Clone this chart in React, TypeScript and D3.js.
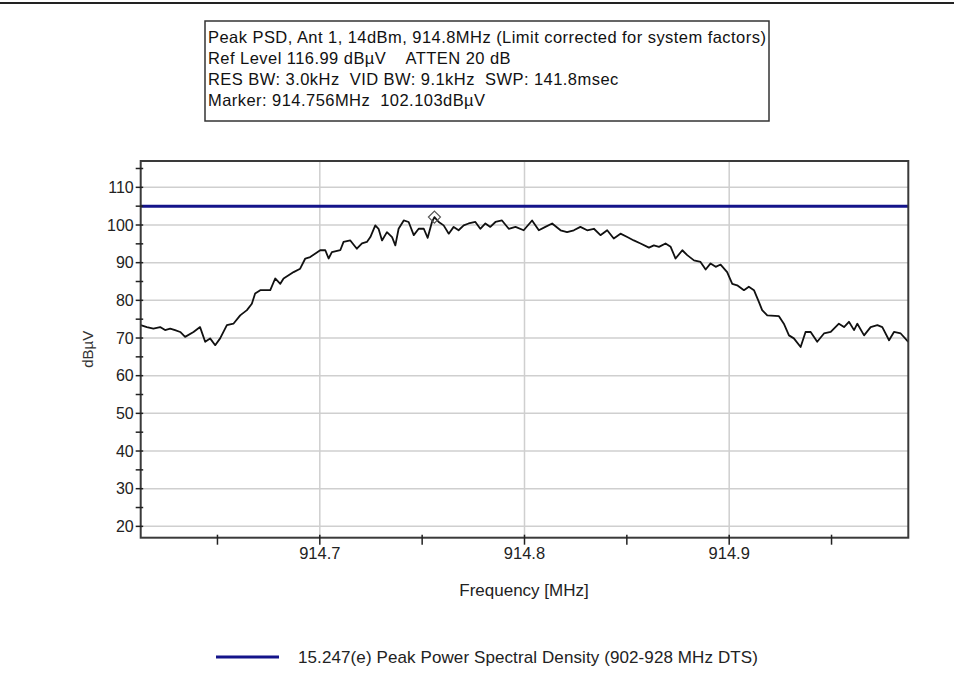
import React from "react";
import * as d3 from "d3";

// ---- data ----
const freqMHz = [
  914.6125, 914.6155, 914.6187, 914.622, 914.6244, 914.6269, 914.6293, 914.6318, 914.6342, 914.6383,
  914.6415, 914.644, 914.6464, 914.6489, 914.6513, 914.6546, 914.6578, 914.6611, 914.6644, 914.6668,
  914.6684, 914.6709, 914.6758, 914.6782, 914.6807, 914.6823, 914.6872, 914.6904, 914.6929, 914.6953,
  914.7002, 914.7027, 914.7043, 914.7059, 914.71, 914.7116, 914.7149, 914.7181, 914.7206, 914.723,
  914.7247, 914.7271, 914.7287, 914.7304, 914.7328, 914.7353, 914.7369, 914.7385, 914.741, 914.7434,
  914.7459, 914.7483, 914.7508, 914.7527, 914.7548, 914.756, 914.7581, 914.7605, 914.763, 914.7654,
  914.7678, 914.7703, 914.7727, 914.776, 914.7784, 914.7809, 914.7833, 914.7858, 914.789, 914.7923,
  914.7956, 914.7996, 914.8037, 914.807, 914.8102, 914.8135, 914.8176, 914.8208, 914.8241, 914.8273,
  914.8306, 914.8339, 914.8371, 914.8404, 914.8436, 914.8469, 914.8502, 914.8534, 914.8567, 914.8608,
  914.8632, 914.8657, 914.8689, 914.8714, 914.8738, 914.8771, 914.8795, 914.8828, 914.886, 914.8885,
  914.8909, 914.8934, 914.8958, 914.899, 914.9015, 914.9039, 914.9072, 914.9096, 914.9121, 914.9145,
  914.9161, 914.9186, 914.9243, 914.9267, 914.9292, 914.9316, 914.9349, 914.9373, 914.9398, 914.943,
  914.9463, 914.9496, 914.9536, 914.9561, 914.9585, 914.961, 914.9626, 914.9659, 914.9691, 914.9724,
  914.9748, 914.9781, 914.9805, 914.9838, 914.9875,
];
const levelDbuV = [
  73.4, 72.9, 72.5, 72.9, 72.1, 72.5, 72.1, 71.6, 70.3, 71.6,
  72.9, 69.0, 69.9, 68.1, 69.9, 73.4, 73.8, 76.0, 77.4, 79.1,
  81.8, 82.7, 82.7, 85.8, 84.4, 85.8, 87.5, 88.4, 91.1, 91.5,
  93.3, 93.3, 91.1, 92.8, 93.3, 95.5, 95.9, 93.7, 95.1, 95.5,
  96.8, 99.9, 99.0, 95.9, 98.1, 96.8, 94.6, 99.0, 101.2, 100.8,
  97.3, 99.0, 99.0, 96.6, 100.8, 102.1, 100.8, 99.9, 97.7, 99.5,
  98.6, 99.9, 100.4, 100.8, 99.0, 100.4, 99.5, 100.8, 101.2, 99.0,
  99.5, 98.6, 101.2, 98.6, 99.5, 100.4, 98.6, 98.1, 98.6, 99.5,
  98.6, 99.0, 97.3, 98.6, 96.4, 97.7, 96.8, 95.9, 95.1, 94.0,
  94.6, 94.2, 95.1, 94.2, 91.1, 93.3, 92.0, 90.6, 90.2, 88.2,
  89.8, 88.9, 89.5, 87.5, 84.4, 84.0, 82.7, 83.6, 82.7, 79.6,
  77.4, 76.0, 75.8, 73.8, 70.7, 69.9, 67.6, 71.6, 71.6, 69.0,
  71.2, 71.6, 73.8, 72.9, 74.3, 72.1, 73.8, 70.7, 72.9, 73.4,
  72.9, 69.4, 71.6, 71.2, 69.0,
];
const limitDbuV = 105;
const markerFreq = 914.756;
const markerLevel = 102.103;
const yTickLabels = [20, 30, 40, 50, 60, 70, 80, 90, 100, 110];
const yMinorTicks = [20, 25, 30, 35, 40, 45, 50, 55, 60, 65, 70, 75, 80, 85, 90, 95, 100, 105, 110, 115];
const xTickLabels = [914.7, 914.8, 914.9];
const xMinorTicks = [914.65, 914.7, 914.75, 914.8, 914.85, 914.9, 914.95];
const headerLines = [
  "Peak PSD, Ant 1, 14dBm, 914.8MHz (Limit corrected for system factors)",
  "Ref Level 116.99 dB\u00b5V    ATTEN 20 dB",
  "RES BW: 3.0kHz  VID BW: 9.1kHz  SWP: 141.8msec",
  "Marker: 914.756MHz  102.103dB\u00b5V",
];
const legendLabel = "15.247(e) Peak Power Spectral Density (902-928 MHz DTS)";
const xTitle = "Frequency [MHz]";
const yTitle = "dB\u00b5V";

const FONT = "'Liberation Sans', Arial, sans-serif";

export default function App() {
  const W = 954;
  const H = 678;
  const left = 140.7, right = 908.3, top = 161, bottom = 537.7;
  const x = d3.scaleLinear().domain([914.6125, 914.9875]).range([left, right]);
  const y = d3.scaleLinear().domain([16.99, 116.99]).range([bottom, top]);
  const line = d3
    .line<number>()
    .x((_, i) => x(freqMHz[i]))
    .y((d) => y(d));
  const tracePath = line(levelDbuV) || "";
  const mx = x(markerFreq);
  const my = y(markerLevel);
  const ds = 6;
  const blue = "#14148a";

  return (
    <svg
      width={W}
      height={H}
      style={{ position: "absolute", left: 0, top: 0, background: "#fff" }}
      fontFamily={FONT}
    >
      <rect x={0} y={0} width={W} height={H} fill="#fff" />
      <line x1={0} x2={W} y1={3} y2={3} stroke="#222" strokeWidth={2} />

      {/* header box */}
      <rect x={205} y={21} width={564} height={100} fill="#fff" stroke="#333" strokeWidth={1.5} />
      {headerLines.map((t, i) => (
        <text
          key={i}
          x={208}
          y={43 + i * 21}
          fontSize={16.5}
          letterSpacing={0.45}
          fill="#111"
          style={{ whiteSpace: "pre" }}
        >
          {t}
        </text>
      ))}

      {/* grid */}
      {yTickLabels.map((v) => (
        <line key={"gy" + v} x1={left} x2={right} y1={y(v)} y2={y(v)} stroke="#cfcfcf" strokeWidth={1.5} />
      ))}
      {xTickLabels.map((v) => (
        <line key={"gx" + v} x1={x(v)} x2={x(v)} y1={top} y2={bottom} stroke="#cfcfcf" strokeWidth={1.5} />
      ))}

      {/* limit line */}
      <line x1={left} x2={right} y1={y(limitDbuV)} y2={y(limitDbuV)} stroke={blue} strokeWidth={3} />

      {/* trace */}
      <path d={tracePath} fill="none" stroke="#111" strokeWidth={1.8} strokeLinejoin="round" />

      {/* marker */}
      <path
        d={`M${mx},${my - ds} L${mx + ds},${my} L${mx},${my + ds} L${mx - ds},${my} Z`}
        fill="none"
        stroke="#555"
        strokeWidth={1.2}
      />

      {/* frame */}
      <rect x={left} y={top} width={right - left} height={bottom - top} fill="none" stroke="#3a3a3a" strokeWidth={2} />

      {/* y ticks */}
      {yMinorTicks.map((v) => (
        <line key={"ty" + v} x1={left - 5} x2={left + 2.5} y1={y(v)} y2={y(v)} stroke="#222" strokeWidth={1.5} />
      ))}
      {yTickLabels.map((v) => (
        <text key={"ly" + v} x={left - 7} y={y(v) + 5.5} fontSize={16} textAnchor="end" fill="#222">
          {v}
        </text>
      ))}

      {/* x ticks */}
      {xMinorTicks.map((v) => (
        <line key={"tx" + v} x1={x(v)} x2={x(v)} y1={bottom - 3} y2={bottom + 7} stroke="#222" strokeWidth={1.5} />
      ))}
      {xTickLabels.map((v) => (
        <text key={"lx" + v} x={x(v)} y={559} fontSize={16.5} textAnchor="middle" fill="#222">
          {v.toFixed(1)}
        </text>
      ))}

      <text x={524} y={596} fontSize={17} textAnchor="middle" fill="#222">
        {xTitle}
      </text>
      <text
        transform={`translate(93,${(top + bottom) / 2}) rotate(-90)`}
        fontSize={15}
        textAnchor="middle"
        fill="#333"
      >
        {yTitle}
      </text>

      {/* legend */}
      <line x1={216} x2={279} y1={657} y2={657} stroke={blue} strokeWidth={3} />
      <text x={298} y={663} fontSize={17} letterSpacing={0.1} fill="#222">
        {legendLabel}
      </text>
    </svg>
  );
}
